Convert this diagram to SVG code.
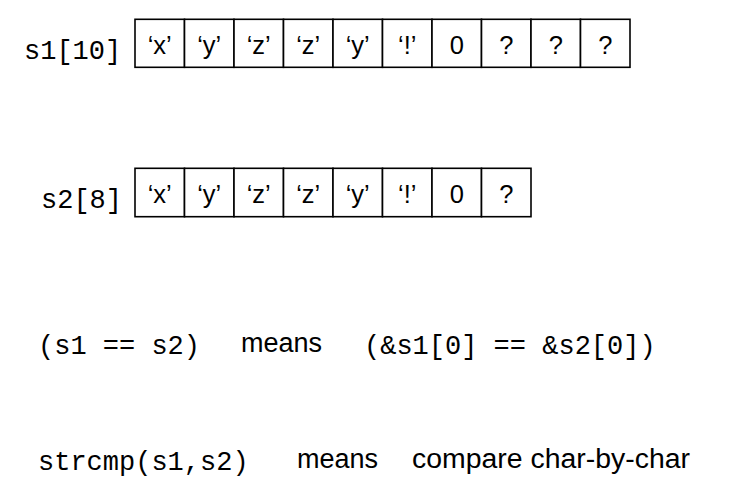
<svg xmlns="http://www.w3.org/2000/svg" width="747" height="500" viewBox="0 0 747 500">
<style>
.mono{font-family:"Liberation Mono","Courier New",monospace;font-size:27px;fill:#000}
.sans{font-family:"Liberation Sans",Arial,Helvetica,sans-serif;font-size:27px;fill:#000}
.cell rect{fill:#fff;stroke:#000;stroke-width:1.6}
.cell text{font-family:"Liberation Sans",Arial,Helvetica,sans-serif;font-size:25.5px;fill:#000;text-anchor:middle}
</style>
<rect width="747" height="500" fill="#fff"/>
<g id="s1">
<text class="mono" x="24" y="59">s1[10]</text>
<g class="cell" id="s1-0"><rect x="135" y="19.3" width="49.5" height="48"/><text x="159.75" y="53.5">‘x’</text></g>
<g class="cell" id="s1-1"><rect x="184.5" y="19.3" width="49.5" height="48"/><text x="209.25" y="53.5">‘y’</text></g>
<g class="cell" id="s1-2"><rect x="234" y="19.3" width="49.5" height="48"/><text x="258.75" y="53.5">‘z’</text></g>
<g class="cell" id="s1-3"><rect x="283.5" y="19.3" width="49.5" height="48"/><text x="308.25" y="53.5">‘z’</text></g>
<g class="cell" id="s1-4"><rect x="333" y="19.3" width="49.5" height="48"/><text x="357.75" y="53.5">‘y’</text></g>
<g class="cell" id="s1-5"><rect x="382.5" y="19.3" width="49.5" height="48"/><text x="407.25" y="53.5">‘!’</text></g>
<g class="cell" id="s1-6"><rect x="432" y="19.3" width="49.5" height="48"/><text x="456.75" y="53.5">0</text></g>
<g class="cell" id="s1-7"><rect x="481.5" y="19.3" width="49.5" height="48"/><text x="506.25" y="53.5">?</text></g>
<g class="cell" id="s1-8"><rect x="531" y="19.3" width="49.5" height="48"/><text x="555.75" y="53.5">?</text></g>
<g class="cell" id="s1-9"><rect x="580.5" y="19.3" width="49.5" height="48"/><text x="605.25" y="53.5">?</text></g>
</g>
<g id="s2">
<text class="mono" x="41" y="208">s2[8]</text>
<g class="cell" id="s2-0"><rect x="135" y="168.3" width="49.5" height="48.4"/><text x="159.75" y="202.5">‘x’</text></g>
<g class="cell" id="s2-1"><rect x="184.5" y="168.3" width="49.5" height="48.4"/><text x="209.25" y="202.5">‘y’</text></g>
<g class="cell" id="s2-2"><rect x="234" y="168.3" width="49.5" height="48.4"/><text x="258.75" y="202.5">‘z’</text></g>
<g class="cell" id="s2-3"><rect x="283.5" y="168.3" width="49.5" height="48.4"/><text x="308.25" y="202.5">‘z’</text></g>
<g class="cell" id="s2-4"><rect x="333" y="168.3" width="49.5" height="48.4"/><text x="357.75" y="202.5">‘y’</text></g>
<g class="cell" id="s2-5"><rect x="382.5" y="168.3" width="49.5" height="48.4"/><text x="407.25" y="202.5">‘!’</text></g>
<g class="cell" id="s2-6"><rect x="432" y="168.3" width="49.5" height="48.4"/><text x="456.75" y="202.5">0</text></g>
<g class="cell" id="s2-7"><rect x="481.5" y="168.3" width="49.5" height="48.4"/><text x="506.25" y="202.5">?</text></g>
</g>
<g id="line1">
<text class="mono" x="38" y="354">(s1 == s2)</text>
<text class="sans" x="241" y="352">means</text>
<text class="mono" x="364" y="354">(&amp;s1[0] == &amp;s2[0])</text>
</g>
<g id="line2">
<text class="mono" x="38" y="470">strcmp(s1,s2)</text>
<text class="sans" x="297" y="468">means</text>
<text class="sans" x="412" y="468" textLength="278" lengthAdjust="spacingAndGlyphs">compare char-by-char</text>
</g>
</svg>
